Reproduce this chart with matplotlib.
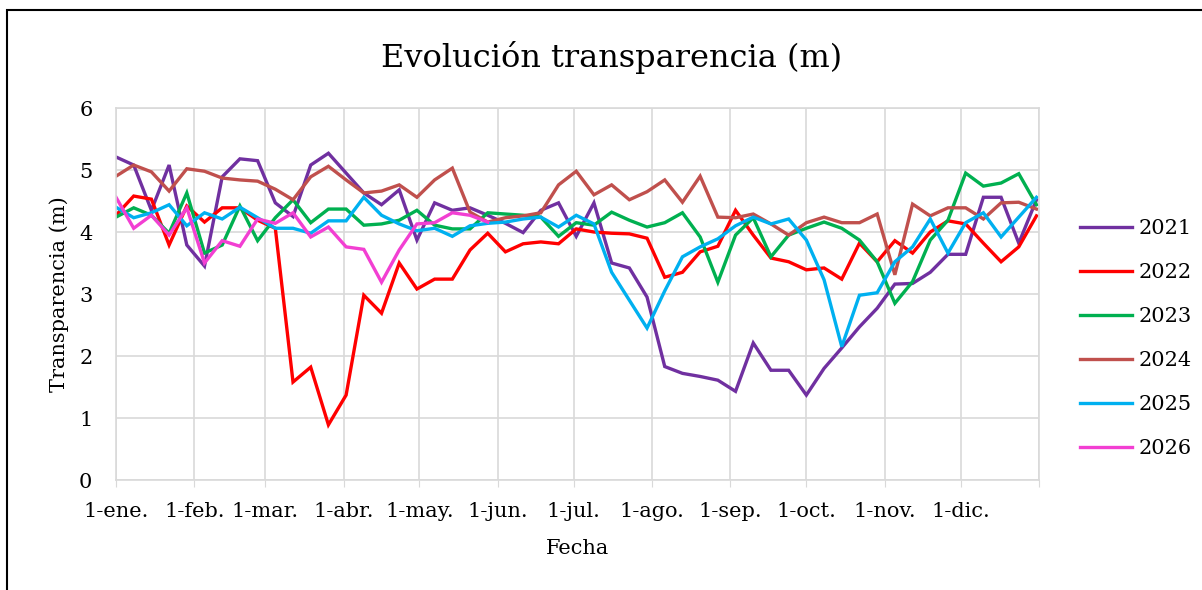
import matplotlib
matplotlib.use("Agg")
import matplotlib.pyplot as plt
from matplotlib.patches import Rectangle

FONT = ["DejaVu Serif"]
plt.rcParams['font.family'] = FONT

# ---- data (weekly samples, day-of-year = week*7) ----
series_names = ["2021", "2022", "2023", "2024", "2025", "2026"]
y2021 = [5.21, 5.08, 4.35, 5.08, 3.79, 3.45, 4.89, 5.18, 5.15, 4.47, 4.25, 5.08, 5.27, 4.95,
         4.63, 4.44, 4.68, 3.87, 4.47, 4.35, 4.39, 4.27, 4.14, 3.99, 4.35, 4.47, 3.93, 4.47,
         3.50, 3.42, 2.95, 1.83, 1.72, 1.67, 1.61, 1.43, 2.21, 1.77, 1.77, 1.37, 1.80, 2.13,
         2.47, 2.77, 3.16, 3.17, 3.35, 3.64, 3.64, 4.56, 4.56, 3.82, 4.52]
y2022 = [4.27, 4.58, 4.53, 3.79, 4.42, 4.16, 4.39, 4.39, 4.19, 4.06, 1.58, 1.82, 0.89, 1.37,
         2.98, 2.69, 3.50, 3.08, 3.24, 3.24, 3.71, 3.98, 3.68, 3.81, 3.84, 3.81, 4.05, 4.00,
         3.98, 3.97, 3.90, 3.27, 3.35, 3.68, 3.77, 4.35, 3.95, 3.58, 3.52, 3.39, 3.42, 3.24,
         3.82, 3.52, 3.86, 3.66, 4.00, 4.18, 4.13, 3.82, 3.52, 3.76, 4.26]
y2023 = [4.24, 4.39, 4.27, 3.98, 4.63, 3.66, 3.79, 4.42, 3.86, 4.23, 4.52, 4.15, 4.37, 4.37,
         4.11, 4.13, 4.19, 4.35, 4.11, 4.05, 4.05, 4.31, 4.29, 4.27, 4.24, 3.93, 4.15, 4.11,
         4.32, 4.19, 4.08, 4.15, 4.31, 3.92, 3.19, 3.95, 4.23, 3.60, 3.95, 4.06, 4.16, 4.06,
         3.87, 3.52, 2.85, 3.20, 3.87, 4.19, 4.95, 4.74, 4.79, 4.94, 4.44]
y2024 = [4.90, 5.08, 4.97, 4.66, 5.02, 4.98, 4.87, 4.84, 4.82, 4.69, 4.52, 4.89, 5.06, 4.84,
         4.63, 4.66, 4.76, 4.56, 4.84, 5.03, 4.32, 4.16, 4.23, 4.26, 4.31, 4.76, 4.98, 4.60,
         4.76, 4.52, 4.65, 4.84, 4.48, 4.90, 4.24, 4.23, 4.29, 4.13, 3.95, 4.15, 4.24, 4.15,
         4.15, 4.29, 3.31, 4.45, 4.26, 4.39, 4.39, 4.21, 4.47, 4.48, 4.37]
y2025 = [4.40, 4.23, 4.31, 4.44, 4.10, 4.31, 4.21, 4.40, 4.23, 4.06, 4.06, 3.98, 4.18, 4.18,
         4.56, 4.27, 4.13, 4.02, 4.06, 3.93, 4.10, 4.14, 4.16, 4.21, 4.24, 4.08, 4.27, 4.13,
         3.35, 2.90, 2.45, 3.05, 3.60, 3.76, 3.89, 4.10, 4.24, 4.13, 4.21, 3.87, 3.23, 2.15,
         2.98, 3.02, 3.52, 3.76, 4.21, 3.66, 4.15, 4.31, 3.92, 4.24, 4.56]
y2026 = [4.56, 4.06, 4.27, 3.95, 4.39, 3.50, 3.86, 3.77, 4.21, 4.14, 4.31, 3.92, 4.08, 3.76,
         3.72, 3.19, 3.71, 4.13, 4.15, 4.31, 4.27, 4.16]
colors = ["#7030A0", "#FF0000", "#00B050", "#C0504D", "#00B0F0", "#F23FD2"]

month_labels = ["1-ene.", "1-feb.", "1-mar.", "1-abr.", "1-may.", "1-jun.",
                "1-jul.", "1-ago.", "1-sep.", "1-oct.", "1-nov.", "1-dic."]
month_days = [0, 31, 59, 90, 120, 151, 181, 212, 243, 273, 304, 334, 365]

fig = plt.figure(figsize=(12.02, 5.90), dpi=100)
ax = fig.add_axes([116/1202, 1-480/590, (1039-116)/1202, (480-108)/590])

all_series = [y2021, y2022, y2023, y2024, y2025, y2026]
for name, vals, c in zip(series_names, all_series, colors):
    days = [i*7 for i in range(len(vals))]
    ax.plot(days, vals, color=c, lw=2.4, label=name, solid_joinstyle='miter')

ax.set_xlim(0, 365)
ax.set_ylim(0, 6)
ax.set_yticks(range(0, 7))
ax.set_xticks(month_days)
ax.set_xticklabels(month_labels + [""])
ax.grid(True, color="#d9d9d9", lw=1.2)
ax.set_axisbelow(True)
for s in ax.spines.values():
    s.set_color("#d9d9d9")
    s.set_linewidth(1.2)
ax.tick_params(axis='x', length=5, color="#d9d9d9", labelsize=15, pad=11)
ax.tick_params(axis='y', length=0, labelsize=15, pad=17)

fig.text(612/1202, 1-57/590, "Evolución transparencia (m)", fontsize=23,
         ha="center", va="center")
ax.set_xlabel("Fecha", fontsize=15, labelpad=13)
ax.set_ylabel("Transparencia (m)", fontsize=15, labelpad=7)

handles, labels = ax.get_legend_handles_labels()
fig.legend(handles, labels, loc="upper left", bbox_to_anchor=(1072/1202, 1-211/590),
           frameon=False, fontsize=15, handlelength=2.5, labelspacing=1.2,
           handletextpad=0.3, borderaxespad=0)

fig.patches.append(Rectangle((7/1202, -0.1), 1.2, (590-10)/590 + 0.1, transform=fig.transFigure,
                             fill=False, edgecolor="black", lw=1.5))

fig.savefig("out.png", dpi=100)
